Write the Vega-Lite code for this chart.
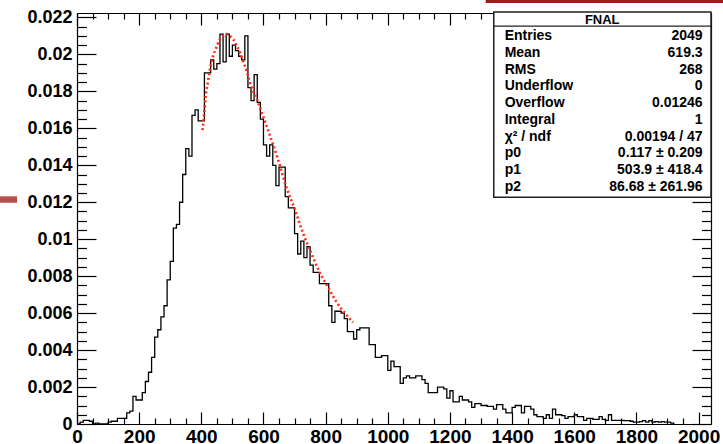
{
  "$schema": "https://vega.github.io/schema/vega-lite/v6.json",
  "width": 634,
  "height": 411,
  "autosize": "none",
  "padding": {"left": 77, "top": 13, "right": 12, "bottom": 20},
  "background": "white",
  "config": {
    "font": "Liberation Sans",
    "view": {"stroke": null},
    "axis": {"grid": false, "domainColor": "#000", "tickColor": "#000", "labelColor": "#000", "labelFont": "Liberation Sans", "labelFontWeight": "bold", "labelOverlap": false, "labelFlush": false, "labelBound": false, "domainWidth": 1.2, "tickWidth": 1.2}
  },
  "datasets": {
    "hist": [
      {"x":0,"h":0},{"x":10,"h":0.0001},{"x":20,"h":0.0002},{"x":30,"h":0.0002},{"x":40,"h":0.00015},{"x":50,"h":0},{"x":60,"h":0.00005},{"x":70,"h":0},{"x":80,"h":0},{"x":90,"h":0},
      {"x":100,"h":0.0001},{"x":110,"h":0.00015},{"x":120,"h":0.00015},{"x":130,"h":0.0003},{"x":140,"h":0.0003},{"x":150,"h":0.0003},{"x":160,"h":0.0006},{"x":170,"h":0.0007},{"x":180,"h":0.0015},{"x":190,"h":0.0013},
      {"x":200,"h":0.0013},{"x":210,"h":0.0017},{"x":220,"h":0.0023},{"x":230,"h":0.0028},{"x":240,"h":0.0036},{"x":250,"h":0.0047},{"x":260,"h":0.0051},{"x":270,"h":0.0058},{"x":280,"h":0.0064},{"x":290,"h":0.0078},
      {"x":300,"h":0.0088},{"x":310,"h":0.0106},{"x":320,"h":0.0108},{"x":330,"h":0.012},{"x":340,"h":0.0135},{"x":350,"h":0.0149},{"x":360,"h":0.0145},{"x":370,"h":0.0167},{"x":380,"h":0.017},{"x":390,"h":0.0164},
      {"x":400,"h":0.0164},{"x":410,"h":0.019},{"x":420,"h":0.019},{"x":430,"h":0.0197},{"x":440,"h":0.0192},{"x":450,"h":0.0195},{"x":460,"h":0.0211},{"x":470,"h":0.0196},{"x":480,"h":0.0211},{"x":490,"h":0.0199},
      {"x":500,"h":0.0205},{"x":510,"h":0.0202},{"x":520,"h":0.0199},{"x":530,"h":0.0197},{"x":540,"h":0.021},{"x":550,"h":0.0182},{"x":560,"h":0.0175},{"x":570,"h":0.0189},{"x":580,"h":0.0174},{"x":590,"h":0.0165},
      {"x":600,"h":0.0151},{"x":610,"h":0.0145},{"x":620,"h":0.0151},{"x":630,"h":0.014},{"x":640,"h":0.0129},{"x":650,"h":0.0139},{"x":660,"h":0.0139},{"x":670,"h":0.0123},{"x":680,"h":0.0117},{"x":690,"h":0.0117},
      {"x":700,"h":0.0103},{"x":710,"h":0.0092},{"x":720,"h":0.0099},{"x":730,"h":0.009},{"x":740,"h":0.0096},{"x":750,"h":0.0086},{"x":760,"h":0.0082},{"x":770,"h":0.0082},{"x":780,"h":0.0076},{"x":790,"h":0.0076},
      {"x":800,"h":0.0076},{"x":810,"h":0.0064},{"x":820,"h":0.0055},{"x":830,"h":0.0061},{"x":840,"h":0.0061},{"x":850,"h":0.006},{"x":860,"h":0.0057},{"x":870,"h":0.005},{"x":880,"h":0.005},{"x":890,"h":0.0046},
      {"x":900,"h":0.0051},{"x":910,"h":0.0052},{"x":920,"h":0.0052},{"x":930,"h":0.0052},{"x":940,"h":0.0043},{"x":950,"h":0.0043},{"x":960,"h":0.0036},{"x":970,"h":0.0036},{"x":980,"h":0.0037},{"x":990,"h":0.0037},
      {"x":1000,"h":0.0029},{"x":1010,"h":0.0034},{"x":1020,"h":0.0031},{"x":1030,"h":0.0031},{"x":1040,"h":0.0022},{"x":1050,"h":0.0025},{"x":1060,"h":0.0026},{"x":1070,"h":0.0025},{"x":1080,"h":0.0025},{"x":1090,"h":0.0026},
      {"x":1100,"h":0.0026},{"x":1110,"h":0.0024},{"x":1120,"h":0.0022},{"x":1130,"h":0.0017},{"x":1140,"h":0.0017},{"x":1150,"h":0.0017},{"x":1160,"h":0.002},{"x":1170,"h":0.002},{"x":1180,"h":0.0019},{"x":1190,"h":0.0014},
      {"x":1200,"h":0.0018},{"x":1210,"h":0.0012},{"x":1220,"h":0.0012},{"x":1230,"h":0.0015},{"x":1240,"h":0.0013},{"x":1250,"h":0.0013},{"x":1260,"h":0.0012},{"x":1270,"h":0.0009},{"x":1280,"h":0.0011},{"x":1290,"h":0.0011},
      {"x":1300,"h":0.001},{"x":1310,"h":0.001},{"x":1320,"h":0.00095},{"x":1330,"h":0.00095},{"x":1340,"h":0.0008},{"x":1350,"h":0.00105},{"x":1360,"h":0.00105},{"x":1370,"h":0.0008},{"x":1380,"h":0.0006},{"x":1390,"h":0.0006},
      {"x":1400,"h":0.0009},{"x":1410,"h":0.001},{"x":1420,"h":0.001},{"x":1430,"h":0.0006},{"x":1440,"h":0.00095},{"x":1450,"h":0.00095},{"x":1460,"h":0.0008},{"x":1470,"h":0.0005},{"x":1480,"h":0.0004},{"x":1490,"h":0.0004},
      {"x":1500,"h":0.0003},{"x":1510,"h":0.0005},{"x":1520,"h":0.0003},{"x":1530,"h":0.0008},{"x":1540,"h":0.0005},{"x":1550,"h":0.0005},{"x":1560,"h":0.00045},{"x":1570,"h":0.0003},{"x":1580,"h":0.0004},{"x":1590,"h":0.0004},
      {"x":1600,"h":0.0005},{"x":1610,"h":0.0004},{"x":1620,"h":0.0004},{"x":1630,"h":0.0002},{"x":1640,"h":0.0003},{"x":1650,"h":0.0003},{"x":1660,"h":0.00025},{"x":1670,"h":0.00025},{"x":1680,"h":0.0004},{"x":1690,"h":0.00025},
      {"x":1700,"h":0.0002},{"x":1710,"h":0.0005},{"x":1720,"h":0.0002},{"x":1730,"h":0.0002},{"x":1740,"h":0.0002},{"x":1750,"h":0.0002},{"x":1760,"h":0.00018},{"x":1770,"h":0.00018},{"x":1780,"h":0.00015},{"x":1790,"h":0.0001},
      {"x":1800,"h":0.0001},{"x":1810,"h":0.00013},{"x":1820,"h":0.00018},{"x":1830,"h":0.0001},{"x":1840,"h":0.00018},{"x":1850,"h":0.0001},{"x":1860,"h":0.00013},{"x":1870,"h":0.0001},{"x":1880,"h":0.00013},{"x":1890,"h":0.0001},
      {"x":1900,"h":0.0001},{"x":1910,"h":0.00005},{"x":1920,"h":0}
    ],
    "fit": [
      {"x":404,"f":0.0159},{"x":408,"f":0.0166},{"x":414,"f":0.0177},{"x":422,"f":0.0186},{"x":429,"f":0.0193},{"x":438,"f":0.0199},{"x":449,"f":0.0204},{"x":459,"f":0.0208},{"x":470,"f":0.021},{"x":481,"f":0.0211},
      {"x":492,"f":0.021},{"x":503,"f":0.0208},{"x":513,"f":0.0205},{"x":524,"f":0.0201},{"x":535,"f":0.0196},{"x":546,"f":0.0191},{"x":556,"f":0.0185},{"x":567,"f":0.018},{"x":578,"f":0.0176},{"x":589,"f":0.0171},
      {"x":600,"f":0.0166},{"x":621,"f":0.0156},{"x":647,"f":0.0143},{"x":674,"f":0.0128},{"x":701,"f":0.0116},{"x":728,"f":0.0103},{"x":755,"f":0.0092},{"x":781,"f":0.0082},{"x":808,"f":0.0074},{"x":835,"f":0.0066},
      {"x":862,"f":0.006},{"x":888,"f":0.0055}
    ],
    "stats": [
      {"k":"Entries","v":"2049"},{"k":"Mean","v":"619.3"},{"k":"RMS","v":"268"},{"k":"Underflow","v":"0"},{"k":"Overflow","v":"0.01246"},
      {"k":"Integral","v":"1"},{"k":"χ² / ndf","v":"0.00194 / 47"},{"k":"p0","v":"0.117 ± 0.209"},{"k":"p1","v":"503.9 ± 418.4"},{"k":"p2","v":"86.68 ± 261.96"}
    ]
  },
  "layer": [
    {
      "layer": [
        {
          "data": {"name": "hist"},
          "mark": {"type": "line", "interpolate": "step-after", "color": "#000", "strokeWidth": 1.3},
          "encoding": {
            "x": {"field": "x", "type": "quantitative", "title": null, "scale": {"domain": [0, 2040], "nice": false, "zero": false},
              "axis": {"orient": "bottom", "values": [0,50,100,150,200,250,300,350,400,450,500,550,600,650,700,750,800,850,900,950,1000,1050,1100,1150,1200,1250,1300,1350,1400,1450,1500,1550,1600,1650,1700,1750,1800,1850,1900,1950,2000],
                "format": "d", "labelExpr": "datum.value % 200 === 0 ? datum.label : ''",
                "tickSize": {"condition": {"test": "datum.value % 200 === 0", "value": -12}, "value": -6},
                "labelPadding": 15, "labelFontSize": 19}},
            "y": {"field": "h", "type": "quantitative", "title": null, "scale": {"domain": [0, 0.02224], "nice": false, "zero": true},
              "axis": {"orient": "left", "values": [0,0.0005,0.001,0.0015,0.002,0.0025,0.003,0.0035,0.004,0.0045,0.005,0.0055,0.006,0.0065,0.007,0.0075,0.008,0.0085,0.009,0.0095,0.01,0.0105,0.011,0.0115,0.012,0.0125,0.013,0.0135,0.014,0.0145,0.015,0.0155,0.016,0.0165,0.017,0.0175,0.018,0.0185,0.019,0.0195,0.02,0.0205,0.021,0.0215,0.022],
                "format": ".3~f", "labelExpr": "round(datum.value * 10000) % 20 === 0 ? datum.label : ''",
                "tickSize": {"condition": {"test": "round(datum.value * 10000) % 20 === 0", "value": -19}, "value": -9.5},
                "labelPadding": 24, "labelFontSize": 18}}
          }
        },
        {
          "data": {"name": "fit"},
          "mark": {"type": "line", "interpolate": "monotone", "color": "#ff2a10", "strokeWidth": 2.6, "strokeDash": [2, 2.6]},
          "encoding": {
            "x": {"field": "x", "type": "quantitative", "title": null, "scale": {"domain": [0, 2040], "nice": false, "zero": false},
              "axis": {"orient": "top", "labels": false, "values": [0,50,100,150,200,250,300,350,400,450,500,550,600,650,700,750,800,850,900,950,1000,1050,1100,1150,1200,1250,1300,1350,1400,1450,1500,1550,1600,1650,1700,1750,1800,1850,1900,1950,2000],
                "tickSize": {"condition": {"test": "datum.value % 200 === 0", "value": -12}, "value": -6}}},
            "y": {"field": "f", "type": "quantitative", "title": null, "scale": {"domain": [0, 0.02224], "nice": false, "zero": true},
              "axis": {"orient": "right", "labels": false, "values": [0,0.0005,0.001,0.0015,0.002,0.0025,0.003,0.0035,0.004,0.0045,0.005,0.0055,0.006,0.0065,0.007,0.0075,0.008,0.0085,0.009,0.0095,0.01,0.0105,0.011,0.0115,0.012,0.0125,0.013,0.0135,0.014,0.0145,0.015,0.0155,0.016,0.0165,0.017,0.0175,0.018,0.0185,0.019,0.0195,0.02,0.0205,0.021,0.0215,0.022],
                "tickSize": {"condition": {"test": "round(datum.value * 10000) % 20 === 0", "value": -19}, "value": -9.5}}}
          }
        },
        {
          "data": {"values": [{}]},
          "mark": {"type": "rect", "fill": "white", "stroke": "#222", "strokeWidth": 1.5},
          "encoding": {
            "x": {"datum": 1341, "type": "quantitative", "axis": null, "scale": {"domain": [0, 2040], "nice": false, "zero": false}},
            "x2": {"datum": 2040},
            "y": {"datum": 0.02229, "type": "quantitative", "axis": null, "scale": {"domain": [0, 0.02224], "nice": false, "zero": true}},
            "y2": {"datum": 0.01227}
          }
        },
        {
          "data": {"values": [{}]},
          "mark": {"type": "rule", "color": "#222", "strokeWidth": 1.3},
          "encoding": {
            "x": {"datum": 1341, "type": "quantitative", "axis": null, "scale": {"domain": [0, 2040], "nice": false, "zero": false}},
            "x2": {"datum": 2040},
            "y": {"datum": 0.02153, "type": "quantitative", "axis": null, "scale": {"domain": [0, 0.02224], "nice": false, "zero": true}}
          }
        },
        {
          "data": {"values": [{"t": "FNAL"}]},
          "mark": {"type": "text", "font": "Liberation Sans", "fontWeight": "bold", "fontSize": 13, "align": "center", "baseline": "middle", "color": "#000"},
          "encoding": {
            "text": {"field": "t"},
            "x": {"datum": 1690, "type": "quantitative", "axis": null, "scale": {"domain": [0, 2040], "nice": false, "zero": false}},
            "y": {"datum": 0.02186, "type": "quantitative", "axis": null, "scale": {"domain": [0, 0.02224], "nice": false, "zero": true}}
          }
        },
        {
          "data": {"values": [{"a": 1315, "b": 2100, "c": 0.023, "d": 0.02278, "col": "#9e1b1b"}, {"a": -250, "b": -193, "c": 0.01232, "d": 0.01197, "col": "#b85050"}]},
          "mark": {"type": "rect"},
          "encoding": {
            "x": {"field": "a", "type": "quantitative", "axis": null, "scale": {"domain": [0, 2040], "nice": false, "zero": false}},
            "x2": {"field": "b"},
            "y": {"field": "c", "type": "quantitative", "axis": null, "scale": {"domain": [0, 0.02224], "nice": false, "zero": true}},
            "y2": {"field": "d"},
            "color": {"field": "col", "type": "nominal", "scale": null, "legend": null}
          }
        }
      ],
      "resolve": {"axis": {"x": "independent", "y": "independent"}}
    },
    {
      "data": {"name": "stats"},
      "layer": [
        {
          "mark": {"type": "text", "font": "Liberation Sans", "fontWeight": "bold", "fontSize": 14, "align": "left", "baseline": "middle", "color": "#000"},
          "encoding": {
            "text": {"field": "k"},
            "x": {"datum": 1376, "type": "quantitative", "axis": null},
            "y": {"field": "k", "type": "nominal", "sort": null, "axis": null, "scale": {"type": "point", "range": [23, 174], "padding": 0}}
          }
        },
        {
          "mark": {"type": "text", "font": "Liberation Sans", "fontWeight": "bold", "fontSize": 14, "align": "right", "baseline": "middle", "color": "#000"},
          "encoding": {
            "text": {"field": "v"},
            "x": {"datum": 2013, "type": "quantitative", "axis": null},
            "y": {"field": "k", "type": "nominal", "sort": null, "axis": null, "scale": {"type": "point", "range": [23, 174], "padding": 0}}
          }
        }
      ]
    }
  ],
  "resolve": {"scale": {"y": "independent"}}
}
